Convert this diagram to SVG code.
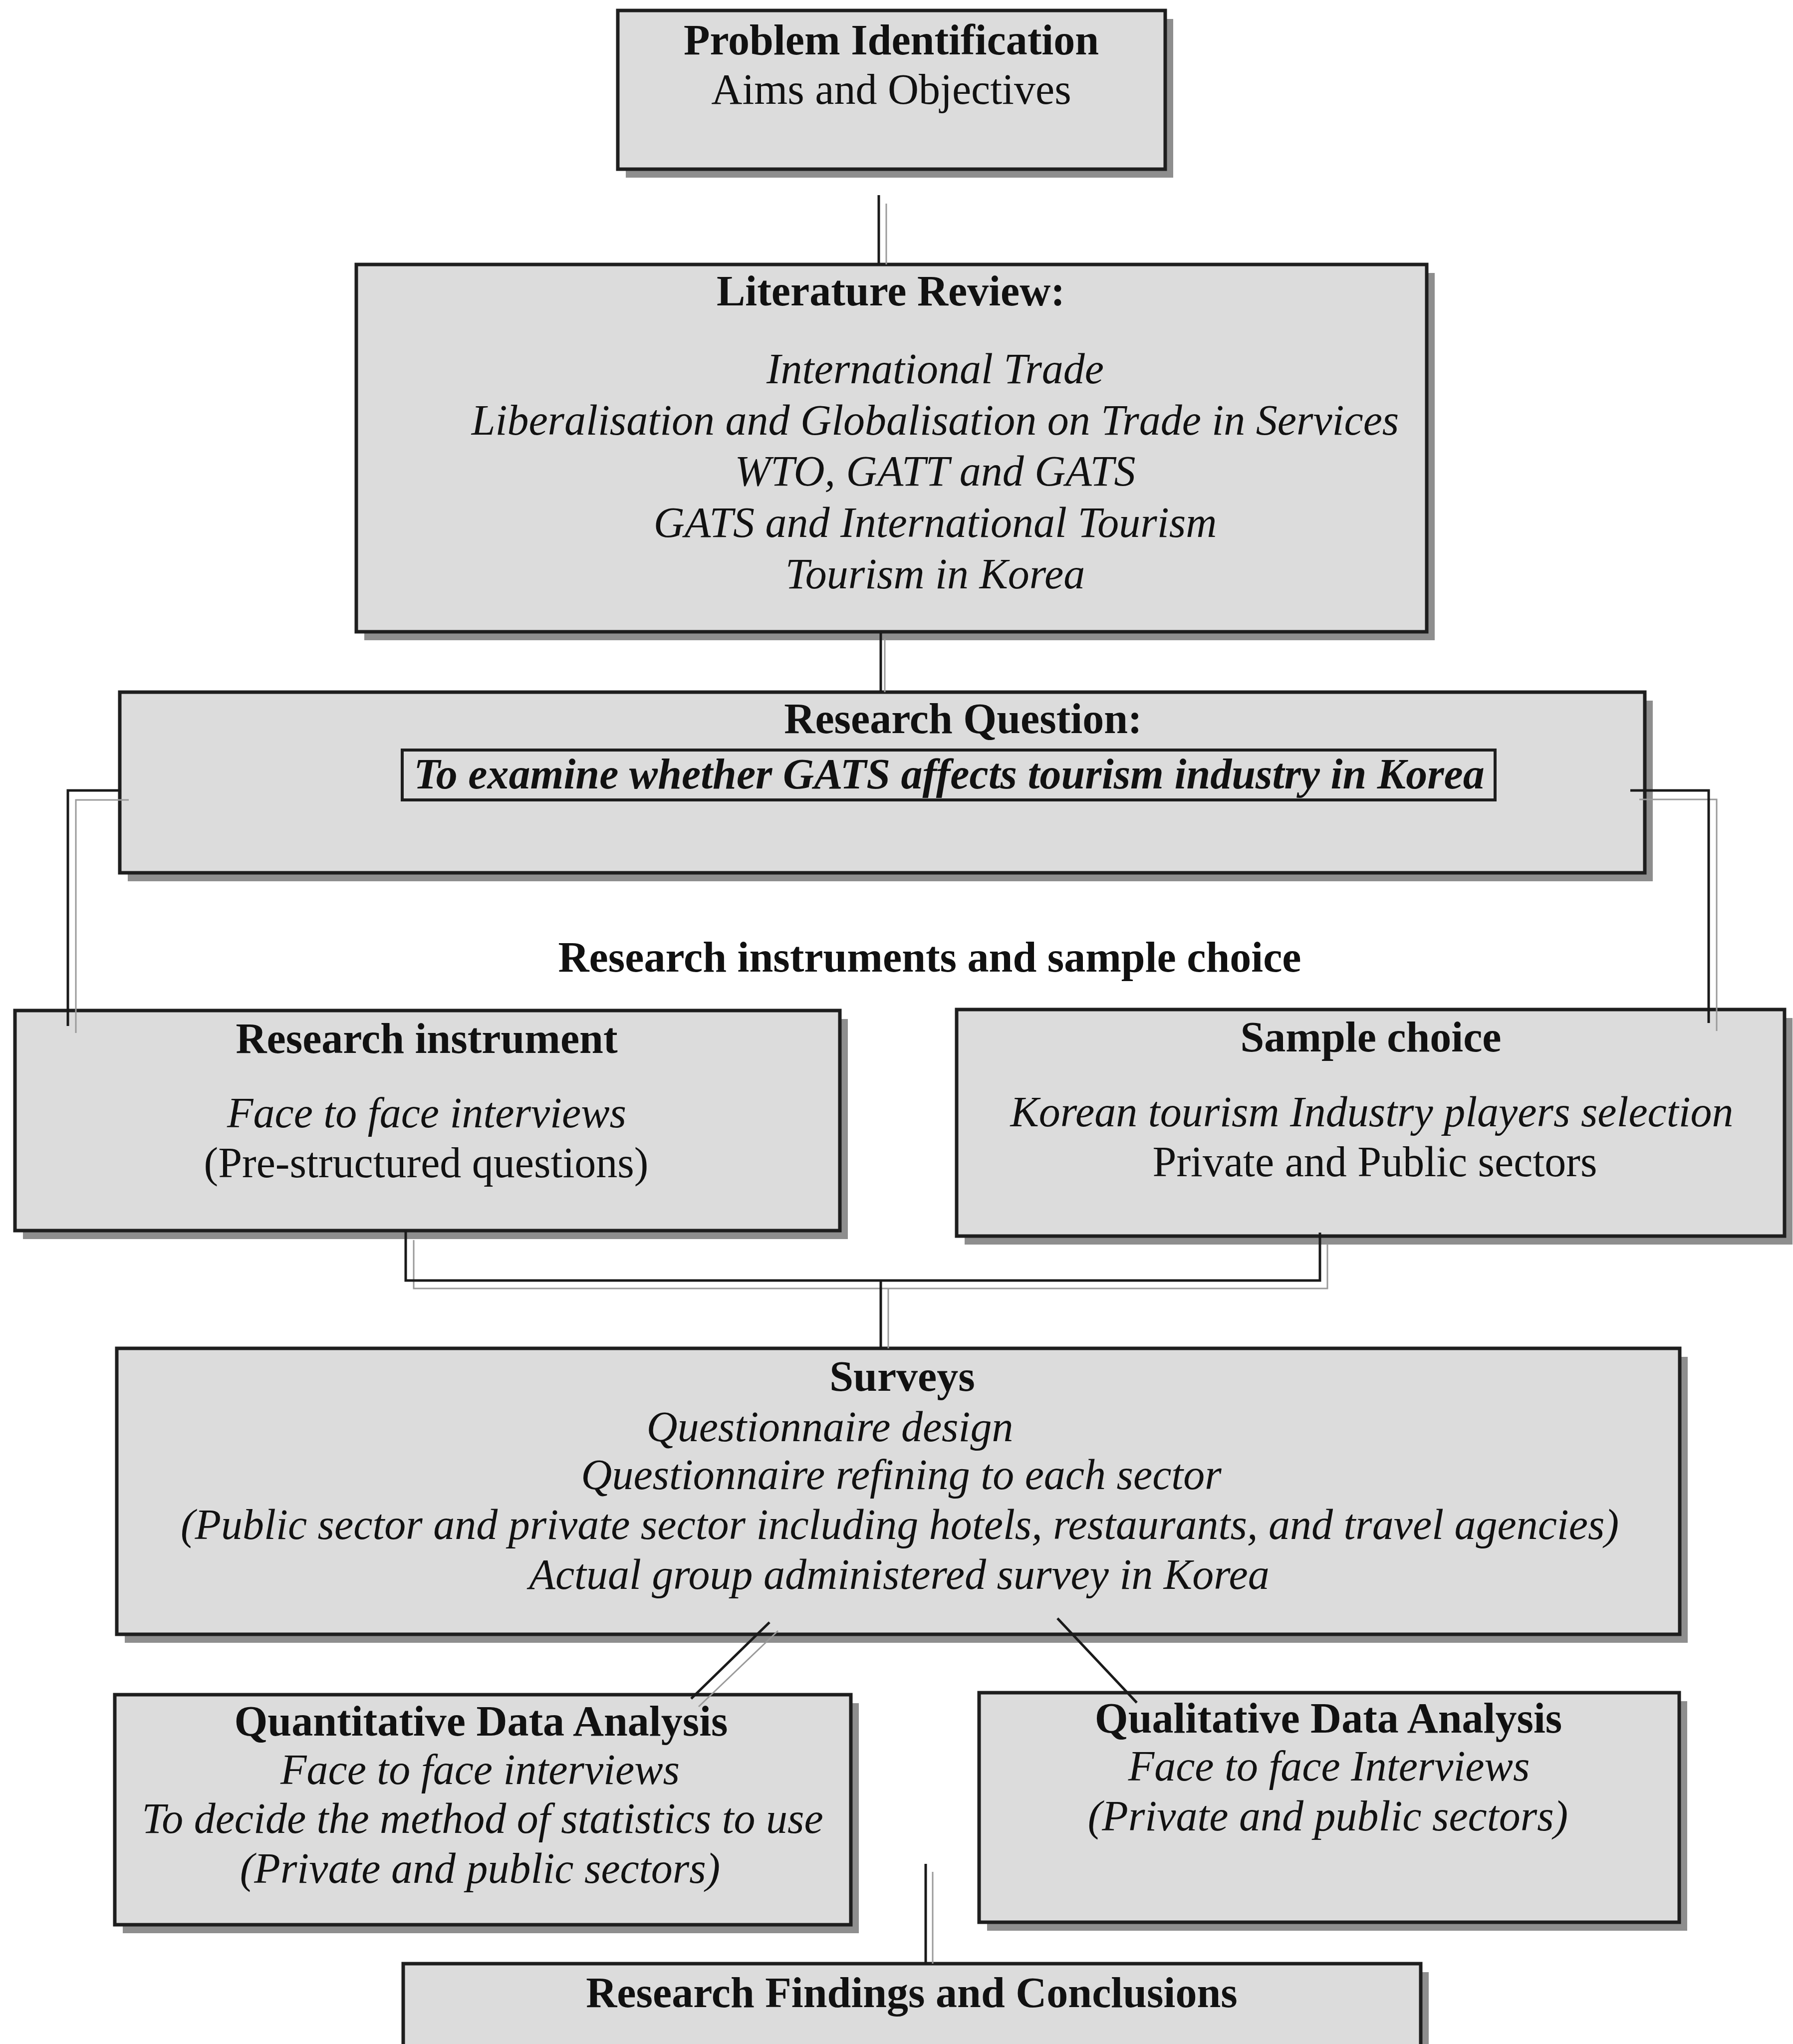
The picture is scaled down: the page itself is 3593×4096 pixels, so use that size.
<svg xmlns="http://www.w3.org/2000/svg" width="3593" height="4096" viewBox="0 0 3593 4096">
<style>
  .box { fill: #dcdcdc; stroke: #1e1e1e; stroke-width: 7; }
  .shd { fill: #8e8e8e; }
  .inner { fill: none; stroke: #1e1e1e; stroke-width: 6; }
  text { font-family: "Liberation Serif", "Times New Roman", serif; font-size: 86px; fill: #111; text-anchor: middle; }
  .b { font-weight: bold; }
  .i { font-style: italic; }
  .bi { font-weight: bold; font-style: italic; }
  .ln { fill: none; stroke: #1a1a1a; stroke-width: 5; }
  .ls { fill: none; stroke: #9a9a9a; stroke-width: 3; }
</style>
<rect x="0" y="0" width="3593" height="4096" fill="#ffffff"/>

<g id="problem">
  <rect class="shd" x="1254" y="38" width="1097" height="318"/>
  <rect class="box" x="1238" y="21" width="1097" height="318"/>
  <text class="b" x="1786" y="109">Problem Identification</text>
  <text x="1786" y="208">Aims and Objectives</text>
</g>

<g id="literature">
  <rect class="shd" x="730" y="547" width="2145" height="736"/>
  <rect class="box" x="714" y="530" width="2145" height="736"/>
  <text class="b" x="1785" y="612">Literature Review:</text>
  <text class="i" x="1874" y="768">International Trade</text>
  <text class="i" x="1874" y="871">Liberalisation and Globalisation on Trade in Services</text>
  <text class="i" x="1874" y="973">WTO, GATT and GATS</text>
  <text class="i" x="1874" y="1076">GATS and International Tourism</text>
  <text class="i" x="1874" y="1179">Tourism in Korea</text>
</g>

<g id="question">
  <rect class="shd" x="256" y="1404" width="3056" height="362"/>
  <rect class="box" x="240" y="1387" width="3056" height="362"/>
  <text class="b" x="1930" y="1469">Research Question:</text>
  <rect class="inner" x="806" y="1503" width="2190" height="100"/>
  <text class="bi" x="1902" y="1580">To examine whether GATS affects tourism industry in Korea</text>
</g>

<g id="section-label">
  <text class="b" x="1863" y="1947">Research instruments and sample choice</text>
</g>

<g id="instrument">
  <rect class="shd" x="46" y="2042" width="1653" height="441"/>
  <rect class="box" x="30" y="2025" width="1653" height="441"/>
  <text class="b" x="855" y="2110">Research instrument</text>
  <text class="i" x="855" y="2259">Face to face interviews</text>
  <text x="854" y="2359">(Pre-structured questions)</text>
</g>

<g id="sample">
  <rect class="shd" x="1933" y="2040" width="1659" height="454"/>
  <rect class="box" x="1917" y="2023" width="1659" height="454"/>
  <text class="b" x="2747" y="2107">Sample choice</text>
  <text class="i" x="2749" y="2257">Korean tourism Industry players selection</text>
  <text x="2755" y="2357">Private and Public sectors</text>
</g>

<g id="surveys">
  <rect class="shd" x="250" y="2719" width="3132" height="573"/>
  <rect class="box" x="234" y="2702" width="3132" height="573"/>
  <text class="b" x="1808" y="2787">Surveys</text>
  <text class="i" x="1663" y="2888">Questionnaire design</text>
  <text class="i" x="1806" y="2984">Questionnaire refining to each sector</text>
  <text class="i" x="1803" y="3084">(Public sector and private sector including hotels, restaurants, and travel agencies)</text>
  <text class="i" x="1802" y="3184">Actual group administered survey in Korea</text>
</g>

<g id="quantitative">
  <rect class="shd" x="246" y="3413" width="1475" height="461"/>
  <rect class="box" x="230" y="3396" width="1475" height="461"/>
  <text class="b" x="964" y="3478">Quantitative Data Analysis</text>
  <text class="i" x="962" y="3575">Face to face interviews</text>
  <text class="i" x="967" y="3673">To decide the method of statistics to use</text>
  <text class="i" x="962" y="3773">(Private and public sectors)</text>
</g>

<g id="qualitative">
  <rect class="shd" x="1978" y="3409" width="1403" height="460"/>
  <rect class="box" x="1962" y="3392" width="1403" height="460"/>
  <text class="b" x="2662" y="3472">Qualitative Data Analysis</text>
  <text class="i" x="2663" y="3568">Face to face Interviews</text>
  <text class="i" x="2661" y="3668">(Private and public sectors)</text>
</g>

<g id="findings">
  <rect class="shd" x="824" y="3952" width="2039" height="200"/>
  <rect class="box" x="808" y="3935" width="2039" height="200"/>
  <text class="b" x="1827" y="4022">Research Findings and Conclusions</text>
</g>

<g id="connectors">
  <path class="ls" d="M1776,408 V530"/>
  <path class="ln" d="M1761,391 V530"/>

  <path class="ls" d="M1773,1280 V1387"/>
  <path class="ln" d="M1765,1268 V1387"/>

  <path class="ls" d="M258,1603 H152 V2070"/>
  <path class="ln" d="M242,1584 H136 V2056"/>

  <path class="ls" d="M3285,1602 H3440 V2066"/>
  <path class="ln" d="M3267,1584 H3424 V2050"/>

  <path class="ls" d="M829,2485 V2582 H2660 V2493"/>
  <path class="ln" d="M813,2466 V2566 H2645 V2470"/>
  <path class="ls" d="M1780,2582 V2702"/>
  <path class="ln" d="M1765,2566 V2702"/>

  <path class="ls" d="M1559,3268 L1400,3420"/>
  <path class="ln" d="M1542,3251 L1385,3404"/>

  <path class="ln" d="M2119,3243 L2278,3412"/>

  <path class="ls" d="M1869,3751 V3935"/>
  <path class="ln" d="M1855,3735 V3935"/>
</g>
</svg>
